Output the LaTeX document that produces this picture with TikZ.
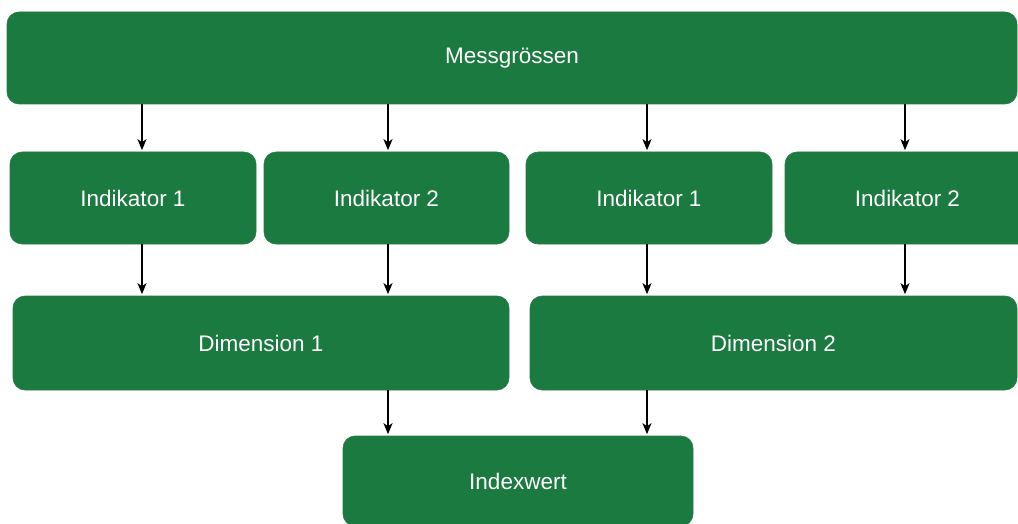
\documentclass[tikz,border=0pt]{standalone}
\usepackage{fontspec}
\setmainfont{Liberation Sans}
\usetikzlibrary{arrows.meta}
\definecolor{boxgreen}{RGB}{26,122,63}

\begin{document}
\begin{tikzpicture}[
    x=1pt, y=-1pt,
    box/.style={fill=boxgreen, draw=boxgreen!85!gray, line width=0.6pt, rounded corners=12pt,
        minimum height=92pt, text=white, font=\fontsize{22.5}{26}\selectfont, inner sep=0pt},
    arr/.style={-{Stealth[length=11pt, width=9pt, inset=3pt]}, line width=1.5pt, shorten >=1.5pt}
]
    \clip (0,0) rectangle (1018,524);
    \fill[white] (0,0) rectangle (1018,524);

    % Top
    \node[box, minimum width=1010pt] (mess) at (512,58) {Messgrössen};

    % Indikatoren
    \node[box, minimum width=246pt] (ind1) at (133,198) {Indikator 1};
    \node[box, minimum width=245pt] (ind2) at (386.5,198) {Indikator 2};
    \node[box, minimum width=246pt] (ind3) at (649,198) {Indikator 1};
    \node[box, minimum width=245pt] (ind4) at (907.5,198) {Indikator 2};

    % Dimensionen
    \node[box, minimum width=496pt, minimum height=94pt] (dim1) at (261,343) {Dimension 1};
    \node[box, minimum width=487pt, minimum height=94pt] (dim2) at (773.5,343) {Dimension 2};

    % Index
    \node[box, minimum width=350pt, minimum height=90pt] (index) at (518,481) {Indexwert};

    % arrow columns
    \coordinate (c1) at (142,0);
    \coordinate (c2) at (388,0);
    \coordinate (c3) at (647,0);
    \coordinate (c4) at (905,0);

    \draw[arr] (mess.south -| c1) -- (ind1.north -| c1);
    \draw[arr] (mess.south -| c2) -- (ind2.north -| c2);
    \draw[arr] (mess.south -| c3) -- (ind3.north -| c3);
    \draw[arr] (mess.south -| c4) -- (ind4.north -| c4);

    \draw[arr] (ind1.south -| c1) -- (dim1.north -| c1);
    \draw[arr] (ind2.south -| c2) -- (dim1.north -| c2);
    \draw[arr] (ind3.south -| c3) -- (dim2.north -| c3);
    \draw[arr] (ind4.south -| c4) -- (dim2.north -| c4);

    \draw[arr] (dim1.south -| c2) -- (index.north -| c2);
    \draw[arr] (dim2.south -| c3) -- (index.north -| c3);
\end{tikzpicture}
\end{document}
